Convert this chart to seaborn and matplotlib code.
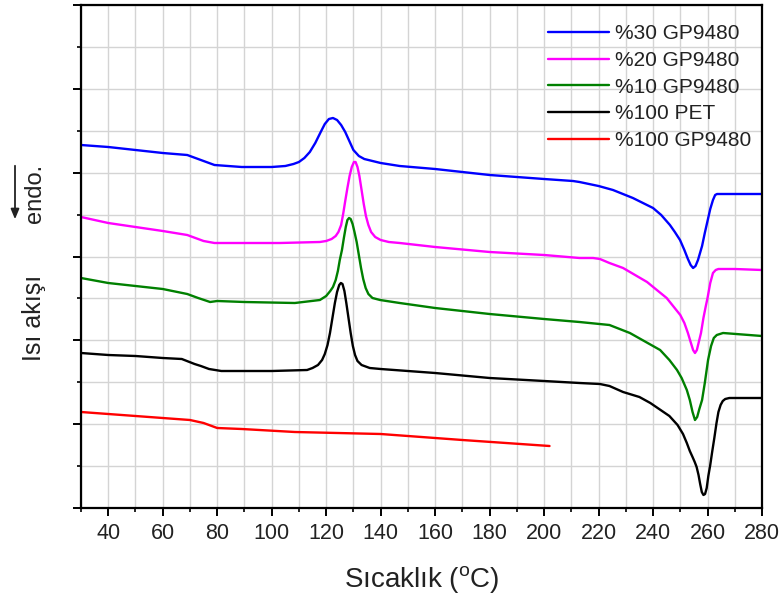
import numpy as np
import pandas as pd
import matplotlib
matplotlib.use("Agg")
import matplotlib.pyplot as plt
import seaborn as sns
from matplotlib.ticker import MultipleLocator, FixedLocator, NullFormatter

# ---- data (heat flow in arbitrary units) ----
labels = ["%30 GP9480", "%20 GP9480", "%10 GP9480", "%100 PET", "%100 GP9480"]
colors = ["#0000ff", "#ff00ff", "#008000", "#000000", "#ff0000"]

t_30 = [30, 40, 50, 60, 69, 72, 75, 79, 89, 100, 105, 108, 110, 112, 114, 116, 118, 119.5, 121,
        122.5, 124, 125.5, 127, 128.5, 130, 132, 134, 137, 140, 147, 160, 180, 200, 210.6, 213,
        220, 225.3, 232.6, 240, 243, 246.2, 248, 249.9, 251.5, 252.8, 253.8, 254.7, 255.6, 256.5,
        258, 259, 260, 261, 262, 262.8, 263.5, 270, 280]
hf_30 = [363, 361, 358, 355, 353, 350, 347, 343, 341, 341, 342, 344, 346, 350, 356, 365, 376, 384, 389,
         390, 388, 383, 376, 367, 358, 352, 349, 347, 345, 342, 339, 333, 329, 327, 326,
         322, 318, 310, 300, 293, 283, 276, 268, 258, 249, 243, 240, 242, 248,
         262, 275, 287, 299, 308, 313, 314, 314, 314]

t_20 = [30, 40, 50, 60, 69, 72, 75, 79, 90, 103, 117.7, 120, 122, 123.5, 124.5, 125.5, 126.3, 127,
        127.8, 128.6, 129.4, 130.2, 130.8, 131.5, 132.2, 133, 133.8, 134.6, 135.5, 136.5, 138,
        140, 143, 147, 160, 180, 200, 213, 218, 220.5, 224, 229, 237.8, 245, 250, 251.5, 252.8,
        253.8, 254.7, 255.4, 256.1, 256.8, 257.6, 258.5, 259.3, 260, 261, 262, 263, 264, 270, 280]
hf_20 = [291, 285, 281, 277, 273, 270, 267, 265, 265, 265, 266, 267, 269, 272, 276, 283, 295, 307,
         320, 332, 341, 346, 346, 341, 332, 318, 304, 292, 283, 276, 271,
         268, 266, 265, 261, 256, 253, 250, 250, 249, 245, 240, 226, 210, 193, 185, 175,
         166, 158, 155, 158, 166, 175, 190, 201, 210, 225, 235, 238, 239, 239, 238]

t_10 = [30, 40, 50, 60, 69, 73, 77.4, 80, 90, 108.5, 117.7, 120, 121.5, 122.5, 123.5, 124.3, 125,
        125.8, 126.5, 127.2, 127.8, 128.4, 129, 129.7, 130.4, 131.2, 132, 132.8, 133.6, 134.5,
        135.5, 137, 139.8, 147, 160, 180, 200, 213, 224, 231.5, 242.6, 246, 248.8, 250.5, 252.4,
        253.5, 254.5, 255.4, 256.2, 257, 258, 259, 260.2, 261.3, 262.3, 263.4, 265.7, 280]
hf_10 = [230, 225, 222, 219, 214, 210, 206, 207, 206, 205, 208, 212, 217, 221, 228, 237, 248,
         258, 270, 281, 288, 290, 289, 284, 276, 266, 253, 240, 229, 220,
         214, 210, 208, 205, 200, 194, 189, 186, 183, 175, 158, 148, 138, 130, 118,
         108, 96, 88, 91, 99, 108, 125, 148, 162, 170, 173, 175, 172]

t_pet = [30, 40, 50, 60, 67, 71.7, 74, 77, 81.5, 100, 113, 115, 117, 118.5, 119.5, 120.5, 121.4,
         122.3, 123.2, 124, 124.8, 125.4, 126, 126.7, 127.4, 128.2, 129, 129.8, 130.6, 131.5,
         133, 136, 140, 160, 180, 200, 213, 220.5, 224, 229, 235, 239, 246, 249, 251, 252.4,
         253.5, 254.5, 255.3, 256, 256.7, 257.3, 257.9, 258.5, 259.1, 259.7, 260.3, 261, 261.7,
         262.5, 263.3, 264, 264.8, 265.6, 266.5, 268, 280]
hf_pet = [155, 153, 152, 150, 149, 144, 142, 139, 137, 137, 138, 140, 143, 148, 154, 163, 175,
          190, 205, 216, 223, 225, 224, 217, 205, 190, 175, 162, 153, 147,
          143, 140, 139, 135, 130, 127, 125, 124, 122, 116, 111, 105, 92, 83, 74, 65,
          57, 51, 46, 41, 33, 24, 16, 13, 14, 20, 32, 43, 56,
          70, 85, 96, 103, 107, 109, 110, 110]

t_gp = [30, 40, 50, 60, 70, 75, 80, 89, 108.5, 140, 170, 202]
hf_gp = [96, 94, 92, 90, 88, 85, 80, 79, 76, 74, 68, 62]

x_major = [40, 60, 80, 100, 120, 140, 160, 180, 200, 220, 240, 260, 280]

series = [(t_30, hf_30), (t_20, hf_20), (t_10, hf_10), (t_pet, hf_pet), (t_gp, hf_gp)]
frames = []
for lab, (t, h) in zip(labels, series):
    frames.append(pd.DataFrame({"T": t, "HF": h, "sample": lab}))
df = pd.concat(frames, ignore_index=True)

# ---- plot ----
sns.set_style("white")
plt.rcParams["font.family"] = ["Liberation Sans", "DejaVu Sans"]

fig = plt.figure(figsize=(7.82, 5.97), dpi=100)
ax = fig.add_axes([81 / 782, 1 - 508 / 597, 681 / 782, 503 / 597])

sns.lineplot(data=df, x="T", y="HF", hue="sample", hue_order=labels,
             palette=dict(zip(labels, colors)), sort=False, estimator=None,
             units="sample", linewidth=1.7, ax=ax)

ax.set_xlim(30, 280)
ax.set_ylim(0, 503)

ax.xaxis.set_major_locator(FixedLocator(x_major))
ax.xaxis.set_minor_locator(MultipleLocator(10))
ax.yaxis.set_major_locator(FixedLocator(np.linspace(0, 503, 7)))
ax.yaxis.set_minor_locator(FixedLocator(np.linspace(0, 503, 13)))
ax.yaxis.set_major_formatter(NullFormatter())

ax.set_axisbelow(True)
ax.grid(True, which="major", axis="both", color="#d4d4d4", linewidth=1.0)
ax.grid(True, which="minor", axis="both", color="#d4d4d4", linewidth=1.0)
for s in ax.spines.values():
    s.set_linewidth(1.6)
    s.set_color("black")

ax.tick_params(axis="both", which="major", direction="out", length=6, width=1.4,
               color="black", left=True, bottom=True)
ax.tick_params(axis="both", which="minor", direction="out", length=3, width=1.2,
               color="black", left=True, bottom=True)
ax.tick_params(axis="x", which="major", labelsize=15.5, pad=5, labelcolor="#222222")

ax.set_xlabel(r"Sıcaklık ($\mathregular{^{o}}$C)", fontsize=20, labelpad=14, color="#222222")
ax.set_ylabel("")

leg = ax.legend(loc="upper left", bbox_to_anchor=(0.686, 0.962), frameon=False,
                fontsize=15, handlelength=2.9, handletextpad=0.3, labelspacing=0.37,
                borderpad=0, borderaxespad=0)
for line in leg.get_lines():
    line.set_linewidth(1.7)
for txt in leg.get_texts():
    txt.set_color("#222222")

fig.text(33.5 / 782, 1 - 318 / 597, "Isı akışı", rotation=90, ha="center", va="center",
         fontsize=18, color="#222222")
fig.text(35.5 / 782, 1 - 193 / 597, "endo.", rotation=90, ha="center", va="center",
         fontsize=17, color="#222222")
fig.add_artist(matplotlib.patches.FancyArrowPatch(
    (15 / 782, 1 - 163 / 597), (15 / 782, 1 - 222 / 597), transform=fig.transFigure,
    arrowstyle="-|>,head_length=6,head_width=2.5", color="#222222", linewidth=1.3))

fig.savefig("out.png", dpi=100)
